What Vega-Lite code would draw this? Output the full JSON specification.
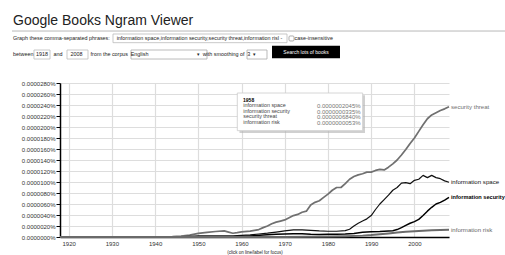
{
  "$schema": "https://vega.github.io/schema/vega-lite/v6.json",
  "autosize": {"type": "none"},
  "width": 389,
  "height": 154,
  "padding": {"left": 60, "top": 83, "right": 56, "bottom": 18},
  "background": "white",
  "config": {"view": {"stroke": null}, "font": "Liberation Sans"},
  "resolve": {"axis": {"x": "independent", "y": "independent"}},
  "title": {
    "text": "Google Books Ngram Viewer",
    "subtitle": [
      "Graph these comma-separated phrases:\u2003 information space,information security,security threat,information risl -\u2003\u2003 case-insensitive",
      "between\u20021918\u2003and\u2003\u20022008\u2003\u2002from the corpus\u2002English\u2003\u2003\u2003\u2003\u2003\u2003\u2003\u2003\u2003▾\u2002with smoothing of\u20023\u2002▾"
    ],
    "anchor": "start",
    "frame": "group",
    "dx": -47,
    "offset": -27,
    "font": "Liberation Sans",
    "fontSize": 14,
    "fontWeight": "normal",
    "color": "#222",
    "subtitleFont": "Liberation Sans",
    "subtitleFontSize": 5.4,
    "subtitleColor": "#222",
    "subtitleLineHeight": 16.2,
    "subtitlePadding": 8
  },
  "layer": [
    {
      "data": {"values": [
        {"year": 1918, "phrase": "security threat", "pct": 0},
        {"year": 1942, "phrase": "security threat", "pct": 0},
        {"year": 1944, "phrase": "security threat", "pct": 0.00000005},
        {"year": 1946, "phrase": "security threat", "pct": 0.00000015},
        {"year": 1948, "phrase": "security threat", "pct": 0.00000035},
        {"year": 1950, "phrase": "security threat", "pct": 0.00000065},
        {"year": 1952, "phrase": "security threat", "pct": 0.00000085},
        {"year": 1954, "phrase": "security threat", "pct": 0.000001},
        {"year": 1956, "phrase": "security threat", "pct": 0.0000011},
        {"year": 1957, "phrase": "security threat", "pct": 0.0000009},
        {"year": 1958, "phrase": "security threat", "pct": 0.000000684},
        {"year": 1959, "phrase": "security threat", "pct": 0.0000008},
        {"year": 1960, "phrase": "security threat", "pct": 0.00000095},
        {"year": 1962, "phrase": "security threat", "pct": 0.00000105},
        {"year": 1964, "phrase": "security threat", "pct": 0.00000135},
        {"year": 1965, "phrase": "security threat", "pct": 0.0000017},
        {"year": 1966, "phrase": "security threat", "pct": 0.000002},
        {"year": 1967, "phrase": "security threat", "pct": 0.0000024},
        {"year": 1968, "phrase": "security threat", "pct": 0.0000027},
        {"year": 1969, "phrase": "security threat", "pct": 0.0000029},
        {"year": 1970, "phrase": "security threat", "pct": 0.0000031},
        {"year": 1971, "phrase": "security threat", "pct": 0.0000035},
        {"year": 1972, "phrase": "security threat", "pct": 0.0000039},
        {"year": 1973, "phrase": "security threat", "pct": 0.0000041},
        {"year": 1974, "phrase": "security threat", "pct": 0.0000045},
        {"year": 1975, "phrase": "security threat", "pct": 0.0000047},
        {"year": 1976, "phrase": "security threat", "pct": 0.0000058},
        {"year": 1977, "phrase": "security threat", "pct": 0.0000063},
        {"year": 1978, "phrase": "security threat", "pct": 0.0000066},
        {"year": 1979, "phrase": "security threat", "pct": 0.0000072},
        {"year": 1980, "phrase": "security threat", "pct": 0.0000078},
        {"year": 1981, "phrase": "security threat", "pct": 0.0000085},
        {"year": 1982, "phrase": "security threat", "pct": 0.000009},
        {"year": 1983, "phrase": "security threat", "pct": 0.000009},
        {"year": 1984, "phrase": "security threat", "pct": 0.0000097},
        {"year": 1985, "phrase": "security threat", "pct": 0.0000105},
        {"year": 1986, "phrase": "security threat", "pct": 0.000011},
        {"year": 1987, "phrase": "security threat", "pct": 0.0000113},
        {"year": 1988, "phrase": "security threat", "pct": 0.0000115},
        {"year": 1989, "phrase": "security threat", "pct": 0.0000118},
        {"year": 1990, "phrase": "security threat", "pct": 0.0000118},
        {"year": 1991, "phrase": "security threat", "pct": 0.0000121},
        {"year": 1992, "phrase": "security threat", "pct": 0.0000123},
        {"year": 1993, "phrase": "security threat", "pct": 0.0000122},
        {"year": 1994, "phrase": "security threat", "pct": 0.0000127},
        {"year": 1995, "phrase": "security threat", "pct": 0.0000133},
        {"year": 1996, "phrase": "security threat", "pct": 0.000014},
        {"year": 1997, "phrase": "security threat", "pct": 0.0000149},
        {"year": 1998, "phrase": "security threat", "pct": 0.0000159},
        {"year": 1999, "phrase": "security threat", "pct": 0.000017},
        {"year": 2000, "phrase": "security threat", "pct": 0.000018},
        {"year": 2001, "phrase": "security threat", "pct": 0.0000192},
        {"year": 2002, "phrase": "security threat", "pct": 0.0000204},
        {"year": 2003, "phrase": "security threat", "pct": 0.0000215},
        {"year": 2004, "phrase": "security threat", "pct": 0.0000222},
        {"year": 2005, "phrase": "security threat", "pct": 0.0000226},
        {"year": 2006, "phrase": "security threat", "pct": 0.000023},
        {"year": 2007, "phrase": "security threat", "pct": 0.0000233},
        {"year": 2008, "phrase": "security threat", "pct": 0.0000237},

        {"year": 1918, "phrase": "information space", "pct": 0},
        {"year": 1943, "phrase": "information space", "pct": 0},
        {"year": 1945, "phrase": "information space", "pct": 0.00000005},
        {"year": 1948, "phrase": "information space", "pct": 0.00000012},
        {"year": 1950, "phrase": "information space", "pct": 0.0000002},
        {"year": 1955, "phrase": "information space", "pct": 0.00000022},
        {"year": 1958, "phrase": "information space", "pct": 0.0000002045},
        {"year": 1960, "phrase": "information space", "pct": 0.0000003},
        {"year": 1962, "phrase": "information space", "pct": 0.0000004},
        {"year": 1964, "phrase": "information space", "pct": 0.00000055},
        {"year": 1966, "phrase": "information space", "pct": 0.0000007},
        {"year": 1968, "phrase": "information space", "pct": 0.0000009},
        {"year": 1970, "phrase": "information space", "pct": 0.0000011},
        {"year": 1972, "phrase": "information space", "pct": 0.0000013},
        {"year": 1974, "phrase": "information space", "pct": 0.0000013},
        {"year": 1976, "phrase": "information space", "pct": 0.0000012},
        {"year": 1978, "phrase": "information space", "pct": 0.0000011},
        {"year": 1980, "phrase": "information space", "pct": 0.00000105},
        {"year": 1982, "phrase": "information space", "pct": 0.00000105},
        {"year": 1984, "phrase": "information space", "pct": 0.00000115},
        {"year": 1985, "phrase": "information space", "pct": 0.0000014},
        {"year": 1986, "phrase": "information space", "pct": 0.000002},
        {"year": 1987, "phrase": "information space", "pct": 0.0000025},
        {"year": 1988, "phrase": "information space", "pct": 0.0000029},
        {"year": 1989, "phrase": "information space", "pct": 0.0000033},
        {"year": 1990, "phrase": "information space", "pct": 0.0000039},
        {"year": 1991, "phrase": "information space", "pct": 0.000005},
        {"year": 1992, "phrase": "information space", "pct": 0.000006},
        {"year": 1993, "phrase": "information space", "pct": 0.0000068},
        {"year": 1994, "phrase": "information space", "pct": 0.0000076},
        {"year": 1995, "phrase": "information space", "pct": 0.0000085},
        {"year": 1996, "phrase": "information space", "pct": 0.000009},
        {"year": 1997, "phrase": "information space", "pct": 0.0000098},
        {"year": 1998, "phrase": "information space", "pct": 0.0000099},
        {"year": 1999, "phrase": "information space", "pct": 0.0000097},
        {"year": 2000, "phrase": "information space", "pct": 0.0000103},
        {"year": 2001, "phrase": "information space", "pct": 0.0000105},
        {"year": 2002, "phrase": "information space", "pct": 0.0000112},
        {"year": 2003, "phrase": "information space", "pct": 0.0000108},
        {"year": 2004, "phrase": "information space", "pct": 0.0000112},
        {"year": 2005, "phrase": "information space", "pct": 0.0000108},
        {"year": 2006, "phrase": "information space", "pct": 0.0000106},
        {"year": 2007, "phrase": "information space", "pct": 0.0000102},
        {"year": 2008, "phrase": "information space", "pct": 0.00000995},

        {"year": 1918, "phrase": "information security", "pct": 0},
        {"year": 1950, "phrase": "information security", "pct": 0},
        {"year": 1955, "phrase": "information security", "pct": 0.00000002},
        {"year": 1958, "phrase": "information security", "pct": 0.0000000335},
        {"year": 1960, "phrase": "information security", "pct": 0.0000001},
        {"year": 1962, "phrase": "information security", "pct": 0.0000002},
        {"year": 1965, "phrase": "information security", "pct": 0.00000035},
        {"year": 1968, "phrase": "information security", "pct": 0.0000005},
        {"year": 1970, "phrase": "information security", "pct": 0.00000055},
        {"year": 1972, "phrase": "information security", "pct": 0.0000006},
        {"year": 1974, "phrase": "information security", "pct": 0.0000006},
        {"year": 1976, "phrase": "information security", "pct": 0.0000005},
        {"year": 1978, "phrase": "information security", "pct": 0.00000045},
        {"year": 1980, "phrase": "information security", "pct": 0.0000005},
        {"year": 1982, "phrase": "information security", "pct": 0.0000005},
        {"year": 1984, "phrase": "information security", "pct": 0.00000055},
        {"year": 1986, "phrase": "information security", "pct": 0.00000065},
        {"year": 1988, "phrase": "information security", "pct": 0.00000085},
        {"year": 1990, "phrase": "information security", "pct": 0.00000095},
        {"year": 1992, "phrase": "information security", "pct": 0.000001},
        {"year": 1994, "phrase": "information security", "pct": 0.0000011},
        {"year": 1995, "phrase": "information security", "pct": 0.00000115},
        {"year": 1996, "phrase": "information security", "pct": 0.00000135},
        {"year": 1997, "phrase": "information security", "pct": 0.0000017},
        {"year": 1998, "phrase": "information security", "pct": 0.0000021},
        {"year": 1999, "phrase": "information security", "pct": 0.0000025},
        {"year": 2000, "phrase": "information security", "pct": 0.0000028},
        {"year": 2001, "phrase": "information security", "pct": 0.0000032},
        {"year": 2002, "phrase": "information security", "pct": 0.0000039},
        {"year": 2003, "phrase": "information security", "pct": 0.0000047},
        {"year": 2004, "phrase": "information security", "pct": 0.0000054},
        {"year": 2005, "phrase": "information security", "pct": 0.000006},
        {"year": 2006, "phrase": "information security", "pct": 0.0000063},
        {"year": 2007, "phrase": "information security", "pct": 0.0000067},
        {"year": 2008, "phrase": "information security", "pct": 0.0000072},

        {"year": 1918, "phrase": "information risk", "pct": 0},
        {"year": 1955, "phrase": "information risk", "pct": 0},
        {"year": 1958, "phrase": "information risk", "pct": 0.0000000053},
        {"year": 1965, "phrase": "information risk", "pct": 0.00000001},
        {"year": 1970, "phrase": "information risk", "pct": 0.00000002},
        {"year": 1975, "phrase": "information risk", "pct": 0.00000005},
        {"year": 1980, "phrase": "information risk", "pct": 0.0000001},
        {"year": 1984, "phrase": "information risk", "pct": 0.00000015},
        {"year": 1988, "phrase": "information risk", "pct": 0.00000025},
        {"year": 1990, "phrase": "information risk", "pct": 0.00000035},
        {"year": 1992, "phrase": "information risk", "pct": 0.0000005},
        {"year": 1994, "phrase": "information risk", "pct": 0.00000065},
        {"year": 1996, "phrase": "information risk", "pct": 0.0000008},
        {"year": 1998, "phrase": "information risk", "pct": 0.00000095},
        {"year": 2000, "phrase": "information risk", "pct": 0.00000105},
        {"year": 2002, "phrase": "information risk", "pct": 0.00000115},
        {"year": 2004, "phrase": "information risk", "pct": 0.00000122},
        {"year": 2006, "phrase": "information risk", "pct": 0.00000127},
        {"year": 2008, "phrase": "information risk", "pct": 0.0000013}
      ]},
      "encoding": {
        "x": {
          "field": "year", "type": "quantitative",
          "scale": {"domain": [1918, 2008], "nice": false, "zero": false},
          "axis": {
            "values": [1920, 1930, 1940, 1950, 1960, 1970, 1980, 1990, 2000],
            "format": "d",
            "ticks": false,
            "labelFontSize": 6,
            "labelColor": "#333",
            "labelPadding": 3,
            "domainColor": "#000",
            "domainWidth": 1.5,
            "gridColor": "#dddddd",
            "gridWidth": 1.2,
            "title": "(click on line/label for focus)",
            "titleFontSize": 4.5,
            "titleFontWeight": "normal",
            "titleColor": "#222",
            "titlePadding": 3
          }
        },
        "y": {
          "field": "pct", "type": "quantitative",
          "scale": {"domain": [0, 0.000028], "nice": false, "zero": false},
          "axis": {
            "values": [0, 0.000002, 0.000004, 0.000006, 0.000008, 0.00001, 0.000012, 0.000014, 0.000016, 0.000018, 0.00002, 0.000022, 0.000024, 0.000026, 0.000028],
            "labelExpr": "format(datum.value, '.7f') + '%'",
            "labelFontSize": 6,
            "labelColor": "#333",
            "labelPadding": 1,
            "labelOverlap": false,
            "tickColor": "#000",
            "tickSize": 4,
            "domainColor": "#000",
            "domainWidth": 1.5,
            "gridColor": "#dddddd",
            "gridWidth": 1.2,
            "title": null
          }
        },
        "color": {
          "field": "phrase", "type": "nominal",
          "scale": {
            "domain": ["information space", "information security", "security threat", "information risk"],
            "range": ["#111111", "#000000", "#707070", "#6a6a6a"]
          },
          "legend": null
        }
      },
      "layer": [
        {
          "mark": {"type": "line", "strokeJoin": "round"},
          "encoding": {
            "strokeWidth": {
              "field": "phrase", "type": "nominal",
              "scale": {
                "domain": ["information space", "information security", "security threat", "information risk"],
                "range": [1.2, 2, 1, 1]
              },
              "legend": null
            }
          }
        },
        {
          "transform": [{"filter": "datum.year == 2008 && datum.phrase != 'information security'"}],
          "mark": {"type": "text", "align": "left", "dx": 2, "fontSize": 6.1, "font": "Liberation Sans"},
          "encoding": {"text": {"field": "phrase"}}
        },
        {
          "transform": [{"filter": "datum.year == 2008 && datum.phrase == 'information security'"}],
          "mark": {"type": "text", "align": "left", "dx": 2, "fontSize": 5.6, "fontWeight": "bold", "font": "Liberation Sans"},
          "encoding": {"text": {"field": "phrase"}}
        }
      ]
    },
    {
      "data": {"values": [{}]},
      "mark": {"type": "rect", "fill": "#b0b0b0", "opacity": 0.6},
      "encoding": {
        "x": {"datum": 1959.53, "type": "quantitative", "scale": {"domain": [1918, 2008], "nice": false, "zero": false}, "axis": null},
        "x2": {"datum": 1988.57},
        "y": {"datum": 0.00002576, "type": "quantitative", "scale": {"domain": [0, 0.000028], "nice": false, "zero": false}, "axis": null},
        "y2": {"datum": 0.00001891}
      }
    },
    {
      "data": {"values": [{}]},
      "mark": {"type": "rect", "fill": "white", "stroke": "#cccccc", "strokeWidth": 0.8},
      "encoding": {
        "x": {"datum": 1959.02, "type": "quantitative", "scale": {"domain": [1918, 2008], "nice": false, "zero": false}, "axis": null},
        "x2": {"datum": 1988.03},
        "y": {"datum": 0.00002618, "type": "quantitative", "scale": {"domain": [0, 0.000028], "nice": false, "zero": false}, "axis": null},
        "y2": {"datum": 0.00001933}
      }
    },
    {
      "data": {"values": [{}]},
      "mark": {"type": "text", "text": "1958", "align": "left", "baseline": "middle", "fontSize": 5, "fontWeight": "bold", "font": "Liberation Sans", "color": "#000"},
      "encoding": {
        "x": {"datum": 1960.35, "type": "quantitative", "scale": {"domain": [1918, 2008], "nice": false, "zero": false}, "axis": null},
        "y": {"datum": 0.00002496, "type": "quantitative", "scale": {"domain": [0, 0.000028], "nice": false, "zero": false}, "axis": null}
      }
    },
    {
      "data": {"values": [{}]},
      "mark": {"type": "text", "text": ["information space", "information security", "security threat", "information risk"], "align": "left", "baseline": "top", "lineHeight": 5.45, "fontSize": 5.4, "font": "Liberation Sans", "color": "#444"},
      "encoding": {
        "x": {"datum": 1960.4, "type": "quantitative", "scale": {"domain": [1918, 2008], "nice": false, "zero": false}, "axis": null},
        "y": {"datum": 0.00002432, "type": "quantitative", "scale": {"domain": [0, 0.000028], "nice": false, "zero": false}, "axis": null}
      }
    },
    {
      "data": {"values": [{}]},
      "mark": {"type": "text", "text": ["0.0000002045%", "0.0000000335%", "0.0000006840%", "0.0000000053%"], "align": "right", "baseline": "top", "lineHeight": 5.45, "fontSize": 6, "font": "Liberation Sans", "color": "#777"},
      "encoding": {
        "x": {"datum": 1987.55, "type": "quantitative", "scale": {"domain": [1918, 2008], "nice": false, "zero": false}, "axis": null},
        "y": {"datum": 0.00002432, "type": "quantitative", "scale": {"domain": [0, 0.000028], "nice": false, "zero": false}, "axis": null}
      }
    },
    {
      "data": {"values": [{}]},
      "mark": {"type": "rule", "stroke": "#b8b8b8", "strokeWidth": 1},
      "encoding": {
        "x": {"datum": 1906.9, "type": "quantitative", "scale": {"domain": [1918, 2008], "nice": false, "zero": false}, "axis": null},
        "x2": {"datum": 2020.96},
        "y": {"datum": 0.00003745, "type": "quantitative", "scale": {"domain": [0, 0.000028], "nice": false, "zero": false}, "axis": null}
      }
    },
    {
      "data": {"values": [{}]},
      "mark": {"type": "rect", "fill": null, "stroke": "#bbbbbb", "strokeWidth": 0.8},
      "encoding": {
        "x": {"datum": 1930.26, "type": "quantitative", "scale": {"domain": [1918, 2008], "nice": false, "zero": false}, "axis": null},
        "x2": {"datum": 1970.52},
        "y": {"datum": 0.00003691, "type": "quantitative", "scale": {"domain": [0, 0.000028], "nice": false, "zero": false}, "axis": null},
        "y2": {"datum": 0.00003533}
      }
    },
    {
      "data": {"values": [{}]},
      "mark": {"type": "rect", "fill": null, "stroke": "#999999", "strokeWidth": 0.8, "cornerRadius": 1},
      "encoding": {
        "x": {"datum": 1970.98, "type": "quantitative", "scale": {"domain": [1918, 2008], "nice": false, "zero": false}, "axis": null},
        "x2": {"datum": 1972.14},
        "y": {"datum": 0.00003655, "type": "quantitative", "scale": {"domain": [0, 0.000028], "nice": false, "zero": false}, "axis": null},
        "y2": {"datum": 0.00003564}
      }
    },
    {
      "data": {"values": [{}]},
      "mark": {"type": "rect", "fill": null, "stroke": "#bbbbbb", "strokeWidth": 0.8},
      "encoding": {
        "x": {"datum": 1911.98, "type": "quantitative", "scale": {"domain": [1918, 2008], "nice": false, "zero": false}, "axis": null},
        "x2": {"datum": 1915.69},
        "y": {"datum": 0.000034, "type": "quantitative", "scale": {"domain": [0, 0.000028], "nice": false, "zero": false}, "axis": null},
        "y2": {"datum": 0.00003236}
      }
    },
    {
      "data": {"values": [{}]},
      "mark": {"type": "rect", "fill": null, "stroke": "#bbbbbb", "strokeWidth": 0.8},
      "encoding": {
        "x": {"datum": 1919.62, "type": "quantitative", "scale": {"domain": [1918, 2008], "nice": false, "zero": false}, "axis": null},
        "x2": {"datum": 1924.48},
        "y": {"datum": 0.000034, "type": "quantitative", "scale": {"domain": [0, 0.000028], "nice": false, "zero": false}, "axis": null},
        "y2": {"datum": 0.00003236}
      }
    },
    {
      "data": {"values": [{}]},
      "mark": {"type": "rect", "fill": null, "stroke": "#aaaaaa", "strokeWidth": 0.8},
      "encoding": {
        "x": {"datum": 1934.43, "type": "quantitative", "scale": {"domain": [1918, 2008], "nice": false, "zero": false}, "axis": null},
        "x2": {"datum": 1952.01},
        "y": {"datum": 0.000034, "type": "quantitative", "scale": {"domain": [0, 0.000028], "nice": false, "zero": false}, "axis": null},
        "y2": {"datum": 0.00003236}
      }
    },
    {
      "data": {"values": [{}]},
      "mark": {"type": "rect", "fill": null, "stroke": "#aaaaaa", "strokeWidth": 0.8},
      "encoding": {
        "x": {"datum": 1961.27, "type": "quantitative", "scale": {"domain": [1918, 2008], "nice": false, "zero": false}, "axis": null},
        "x2": {"datum": 1965.89},
        "y": {"datum": 0.000034, "type": "quantitative", "scale": {"domain": [0, 0.000028], "nice": false, "zero": false}, "axis": null},
        "y2": {"datum": 0.00003236}
      }
    },
    {
      "data": {"values": [{}]},
      "mark": {"type": "rect", "fill": "#000000"},
      "encoding": {
        "x": {"datum": 1967.05, "type": "quantitative", "scale": {"domain": [1918, 2008], "nice": false, "zero": false}, "axis": null},
        "x2": {"datum": 1982.78},
        "y": {"datum": 0.00003478, "type": "quantitative", "scale": {"domain": [0, 0.000028], "nice": false, "zero": false}, "axis": null},
        "y2": {"datum": 0.00003249}
      }
    },
    {
      "data": {"values": [{}]},
      "mark": {"type": "text", "text": "Search lots of books", "align": "center", "baseline": "middle", "fontSize": 5, "font": "Liberation Sans", "color": "#ffffff"},
      "encoding": {
        "x": {"datum": 1974.92, "type": "quantitative", "scale": {"domain": [1918, 2008], "nice": false, "zero": false}, "axis": null},
        "y": {"datum": 0.00003364, "type": "quantitative", "scale": {"domain": [0, 0.000028], "nice": false, "zero": false}, "axis": null}
      }
    }
  ]
}
